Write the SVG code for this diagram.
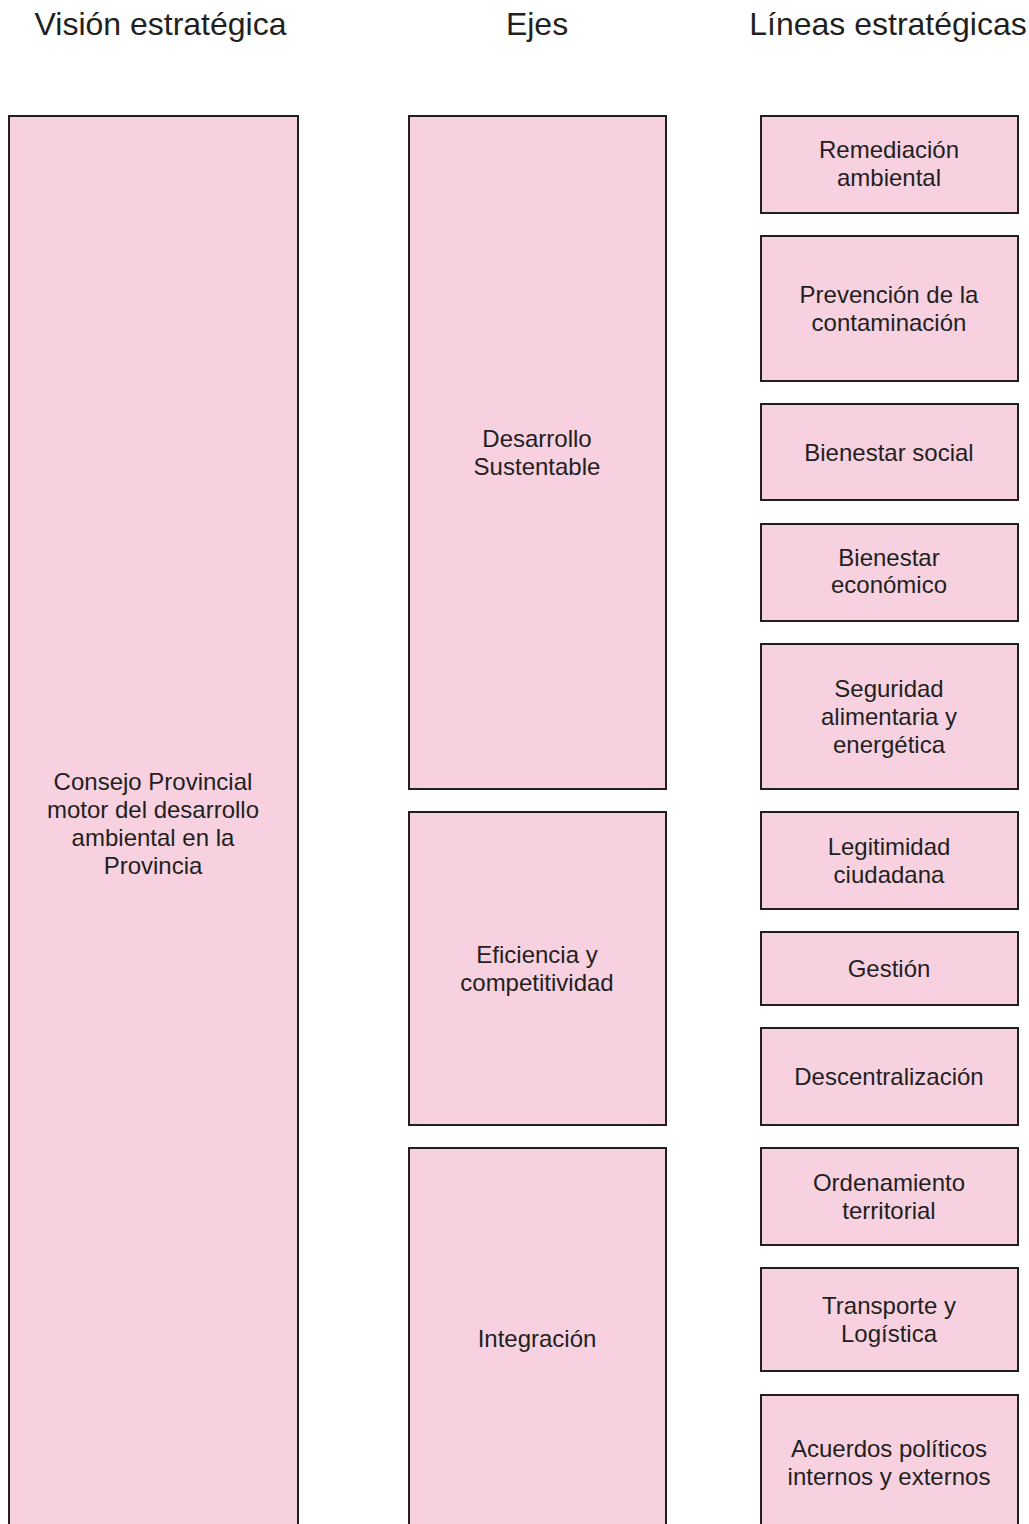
<svg xmlns="http://www.w3.org/2000/svg" width="1029" height="1524" viewBox="0 0 1029 1524">
<style>
.b{fill:#f7d1e0;stroke:#231f20;stroke-width:2}
.t{font-family:"Liberation Sans",Arial,sans-serif;font-size:24px;fill:#231f20;text-anchor:middle}
.h{font-family:"Liberation Sans",Arial,sans-serif;font-size:32px;fill:#231f20;text-anchor:middle}
</style>
<rect width="1029" height="1524" fill="#fff"/>
<g id="headers">
<text class="h" x="160.5" y="35">Visión estratégica</text>
<text class="h" x="537" y="35">Ejes</text>
<text class="h" x="888" y="35">Líneas estratégicas</text>
</g>
<g id="connectors"></g>
<g id="vision"><rect class="b" x="9" y="116" width="289" height="1420"/>
<text class="t" x="153" y="790">Consejo Provincial</text><text class="t" x="153" y="818">motor del desarrollo</text><text class="t" x="153" y="846">ambiental en la</text><text class="t" x="153" y="874">Provincia</text></g>
<g id="eje1"><rect class="b" x="409" y="116" width="257" height="673"/>
<text class="t" x="537" y="447">Desarrollo</text><text class="t" x="537" y="475">Sustentable</text></g>
<g id="eje2"><rect class="b" x="409" y="812" width="257" height="313"/>
<text class="t" x="537" y="963">Eficiencia y</text><text class="t" x="537" y="991">competitividad</text></g>
<g id="eje3"><rect class="b" x="409" y="1148" width="257" height="388"/>
<text class="t" x="537" y="1347">Integración</text></g>
<g id="l1"><rect class="b" x="761" y="116" width="257" height="97"/>
<text class="t" x="889" y="158">Remediación</text><text class="t" x="889" y="186">ambiental</text></g>
<g id="l2"><rect class="b" x="761" y="236" width="257" height="145"/>
<text class="t" x="889" y="303">Prevención de la</text><text class="t" x="889" y="331">contaminación</text></g>
<g id="l3"><rect class="b" x="761" y="404" width="257" height="96"/>
<text class="t" x="889" y="461">Bienestar social</text></g>
<g id="l4"><rect class="b" x="761" y="524" width="257" height="97"/>
<text class="t" x="889" y="566">Bienestar</text><text class="t" x="889" y="593">económico</text></g>
<g id="l5"><rect class="b" x="761" y="644" width="257" height="145"/>
<text class="t" x="889" y="697">Seguridad</text><text class="t" x="889" y="725">alimentaria y</text><text class="t" x="889" y="753">energética</text></g>
<g id="l6"><rect class="b" x="761" y="812" width="257" height="97"/>
<text class="t" x="889" y="855">Legitimidad</text><text class="t" x="889" y="883">ciudadana</text></g>
<g id="l7"><rect class="b" x="761" y="932" width="257" height="73"/>
<text class="t" x="889" y="977">Gestión</text></g>
<g id="l8"><rect class="b" x="761" y="1028" width="257" height="97"/>
<text class="t" x="889" y="1085">Descentralización</text></g>
<g id="l9"><rect class="b" x="761" y="1148" width="257" height="97"/>
<text class="t" x="889" y="1191">Ordenamiento</text><text class="t" x="889" y="1219">territorial</text></g>
<g id="l10"><rect class="b" x="761" y="1268" width="257" height="103"/>
<text class="t" x="889" y="1314">Transporte y</text><text class="t" x="889" y="1342">Logística</text></g>
<g id="l11"><rect class="b" x="761" y="1395" width="257" height="141"/>
<text class="t" x="889" y="1457">Acuerdos políticos</text><text class="t" x="889" y="1485">internos y externos</text></g>
</svg>
